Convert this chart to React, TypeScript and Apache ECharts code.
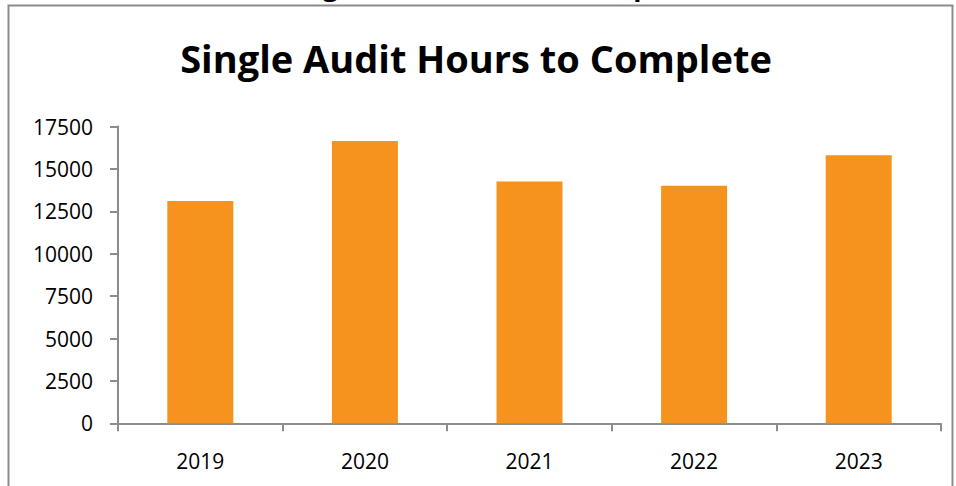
import React, { useEffect, useRef } from "react";
import * as echarts from "echarts";

const titleText = "Single Audit Hours to Complete";
const categories = ["2019", "2020", "2021", "2022", "2023"];
const hours = [13100, 16650, 14250, 14000, 15800];
const yMin = 0;
const yMax = 17500;
const yStep = 2500;

export default function App() {
  const ref = useRef<HTMLDivElement>(null);
  useEffect(() => {
    if (!ref.current) return;
    const chart = echarts.init(ref.current, null, { renderer: "svg" });
    const font = "'Open Sans', 'Liberation Sans', sans-serif";
    chart.setOption({
      animation: false,
      backgroundColor: "#ffffff",
      graphic: [
        {
          type: "rect",
          shape: { x: 8.5, y: 5.5, width: 944, height: 500 },
          style: { fill: "none", stroke: "#8c8c8c", lineWidth: 2 },
          silent: true,
        },
        {
          type: "text",
          x: 492,
          y: -1,
          style: {
            text: titleText,
            font: `bold 27px ${font}`,
            fill: "#000",
            align: "center",
            verticalAlign: "bottom",
          },
          silent: true,
        },
        {
          type: "text",
          x: 476,
          y: 58,
          style: {
            text: titleText,
            font: `bold 38px ${font}`,
            fill: "#000",
            align: "center",
            verticalAlign: "middle",
          },
          silent: true,
        },
      ],
      grid: { left: 118, right: 15, top: 126.5, bottom: 62.7, containLabel: false },
      xAxis: {
        type: "category",
        data: categories,
        axisLine: { show: true, lineStyle: { color: "#8c8c8c", width: 2 } },
        axisTick: { show: true, length: 8, lineStyle: { color: "#8c8c8c", width: 2 } },
        axisLabel: { color: "#000", fontFamily: font, fontSize: 21, margin: 27 },
      },
      yAxis: {
        type: "value",
        min: yMin,
        max: yMax,
        interval: yStep,
        splitLine: { show: false },
        axisLine: { show: true, lineStyle: { color: "#8c8c8c", width: 2 } },
        axisTick: { show: true, length: 8, lineStyle: { color: "#8c8c8c", width: 2 } },
        axisLabel: {
          color: "#000",
          fontFamily: font,
          fontSize: 21,
          margin: 25,
          formatter: (v: number) => String(v),
        },
      },
      series: [
        {
          type: "bar",
          data: hours,
          barWidth: 66,
          itemStyle: { color: "#F6921E" },
        },
      ],
    });
    return () => chart.dispose();
  }, []);
  return (
    <div
      ref={ref}
      style={{ position: "fixed", left: 0, top: 0, width: 956, height: 486 }}
    />
  );
}
